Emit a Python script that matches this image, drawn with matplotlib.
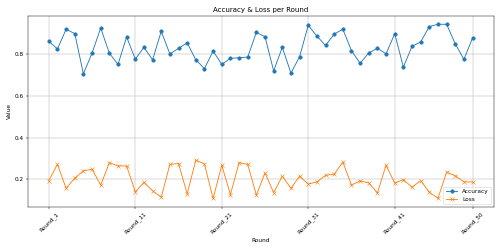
import matplotlib
matplotlib.use("Agg")
import matplotlib.pyplot as plt

rounds = [f"Round_{i}" for i in range(1, 51)]

accuracy = [0.863, 0.826, 0.921, 0.900, 0.707, 0.806, 0.927, 0.806, 0.752, 0.884,
            0.777, 0.834, 0.774, 0.911, 0.802, 0.829, 0.856, 0.774, 0.732, 0.816,
            0.752, 0.781, 0.784, 0.787, 0.906, 0.885, 0.721, 0.834, 0.710, 0.789,
            0.940, 0.888, 0.843, 0.898, 0.921, 0.818, 0.757, 0.808, 0.829, 0.803,
            0.900, 0.739, 0.839, 0.860, 0.934, 0.945, 0.945, 0.851, 0.776, 0.879]

loss = [0.193, 0.271, 0.156, 0.205, 0.240, 0.248, 0.171, 0.279, 0.264, 0.263,
        0.139, 0.184, 0.144, 0.113, 0.271, 0.275, 0.129, 0.292, 0.272, 0.107,
        0.267, 0.126, 0.279, 0.271, 0.123, 0.230, 0.135, 0.214, 0.156, 0.214,
        0.176, 0.187, 0.218, 0.224, 0.282, 0.171, 0.192, 0.181, 0.134, 0.267,
        0.181, 0.198, 0.161, 0.193, 0.137, 0.108, 0.234, 0.216, 0.187, 0.186]

# every 10th round plus the last one
tick_labels = rounds[::10] + [rounds[-1]]

plt.figure(figsize=(12, 6))
plt.plot(rounds, accuracy, marker='o', label='Accuracy')
plt.plot(rounds, loss, marker='x', label='Loss')
plt.title('Accuracy & Loss per Round')
plt.xlabel('Round')
plt.ylabel('Value')
plt.xticks(tick_labels, rotation=45)
plt.grid(True)
plt.legend(loc='lower right')
plt.tight_layout()
plt.savefig('out.png', dpi=500 / 12)
plt.close()
